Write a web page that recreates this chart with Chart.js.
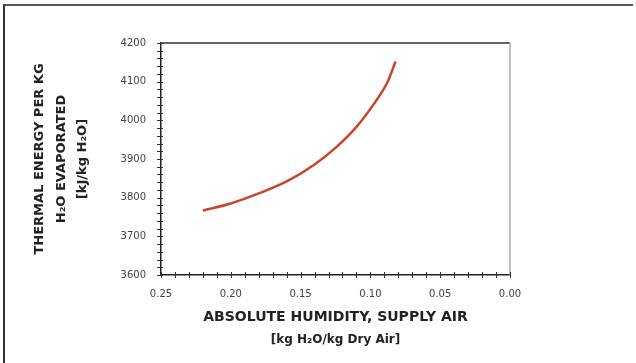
<!DOCTYPE html>
<html>
<head>
<meta charset="utf-8">
<script src="https://cdn.jsdelivr.net/npm/chart.js@4.4.1/dist/chart.umd.min.js"></script>
<style>
  html, body { margin:0; padding:0; background:#fff; }
  #wrap { position:relative; width:636px; height:363px; }
  #frame { position:absolute; left:3px; top:4px; right:3px; bottom:0; border-top:2px solid #555; border-left:2px solid #333; pointer-events:none; }
  canvas { position:absolute; left:0; top:0; }
</style>
</head>
<body>
<div id="wrap">
  <canvas id="chart" width="636" height="363"></canvas>
  <div id="frame"></div>
</div>
<script>
// values
const humidity = [0.22, 0.20, 0.18, 0.16, 0.14, 0.124, 0.11, 0.098, 0.088, 0.082];
const energy   = [3767, 3785, 3811, 3842, 3886, 3932, 3983, 4040, 4097, 4152];

const xLabels = ["0.25", "0.20", "0.15", "0.10", "0.05", "0.00"];
const yLabels = [3600, 3700, 3800, 3900, 4000, 4100, 4200];

const yTitle = ["THERMAL ENERGY PER KG", "H\u2082O EVAPORATED", "[kJ/kg H\u2082O]"];
const xTitle1 = "ABSOLUTE HUMIDITY, SUPPLY AIR";
const xTitle2 = "[kg H\u2082O/kg Dry Air]";

const points = humidity.map((h, i) => ({ x: h, y: energy[i] }));

// small tick marks crossing the axes, plus top/right box lines
const axisMarks = {
  id: "axisMarks",
  afterDraw(chart) {
    const { ctx, chartArea: a, scales } = chart;
    ctx.save();
    // top and right edges of the plot box
    ctx.strokeStyle = "#666";
    ctx.lineWidth = 2;
    ctx.beginPath();
    ctx.moveTo(a.left, a.top);
    ctx.lineTo(a.right, a.top);
    ctx.stroke();
    ctx.strokeStyle = "#aaa";
    ctx.lineWidth = 1.5;
    ctx.beginPath();
    ctx.moveTo(a.right, a.top);
    ctx.lineTo(a.right, a.bottom);
    ctx.stroke();

    ctx.strokeStyle = "#333";
    ctx.lineWidth = 1;
    scales.x.ticks.forEach(t => {
      const px = Math.round(scales.x.getPixelForValue(t.value)) + 0.5;
      ctx.beginPath();
      ctx.moveTo(px, a.bottom - 3);
      ctx.lineTo(px, a.bottom + 3);
      ctx.stroke();
    });
    scales.y.ticks.forEach(t => {
      const py = Math.round(scales.y.getPixelForValue(t.value)) + 0.5;
      ctx.beginPath();
      ctx.moveTo(a.left - 4, py);
      ctx.lineTo(a.left + 2, py);
      ctx.stroke();
    });
    ctx.restore();
  }
};

new Chart(document.getElementById("chart"), {
  type: "scatter",
  data: {
    datasets: [{
      data: points,
      showLine: true,
      borderColor: "#c8462e",
      borderWidth: 2.5,
      pointRadius: 0,
      cubicInterpolationMode: "monotone"
    }]
  },
  options: {
    responsive: false,
    animation: false,
    layout: { padding: { left: 0, top: 43, right: 126, bottom: 0 } },
    plugins: { legend: { display: false }, tooltip: { enabled: false } },
    scales: {
      x: {
        type: "linear",
        position: "bottom",
        reverse: true,
        min: 0,
        max: 0.25,
        afterFit: s => { s.height = 52; },
        border: { color: "#222", width: 1.5 },
        grid: { display: false, drawTicks: false },
        ticks: {
          stepSize: 0.01,
          autoSkip: false,
          maxRotation: 0,
          padding: 13,
          color: "#444",
          font: { family: "'DejaVu Sans', sans-serif", size: 10 },
          callback: v => {
            const s = v.toFixed(2);
            return xLabels.includes(s) ? s : "";
          }
        },
        title: {
          display: true,
          text: xTitle1,
          color: "#222",
          padding: { top: 0, bottom: 1 },
          font: { family: "'DejaVu Sans', sans-serif", size: 14, weight: "bold" }
        }
      },
      x2: {
        type: "linear",
        position: "bottom",
        min: 0,
        max: 0.25,
        afterFit: s => { s.height = 36; },
        border: { display: false },
        grid: { display: false, drawTicks: false },
        ticks: { display: false },
        title: {
          display: true,
          text: xTitle2,
          color: "#222",
          padding: { top: 0, bottom: 16 },
          font: { family: "'DejaVu Sans', sans-serif", size: 12, weight: "bold" }
        }
      },
      y: {
        type: "linear",
        min: 3600,
        max: 4200,
        afterFit: s => { s.width = 161; },
        border: { color: "#222", width: 1.5 },
        grid: { display: false, drawTicks: false },
        ticks: {
          stepSize: 20,
          autoSkip: false,
          padding: 15,
          color: "#444",
          font: { family: "'DejaVu Sans', sans-serif", size: 10 },
          callback: v => yLabels.includes(v) ? String(v) : ""
        },
        title: {
          display: true,
          text: yTitle,
          color: "#222",
          padding: { top: 29, bottom: 0 },
          font: { family: "'DejaVu Sans', sans-serif", size: 13, weight: "bold", lineHeight: 1.65 }
        }
      }
    }
  },
  plugins: [axisMarks]
});
</script>
</body>
</html>
